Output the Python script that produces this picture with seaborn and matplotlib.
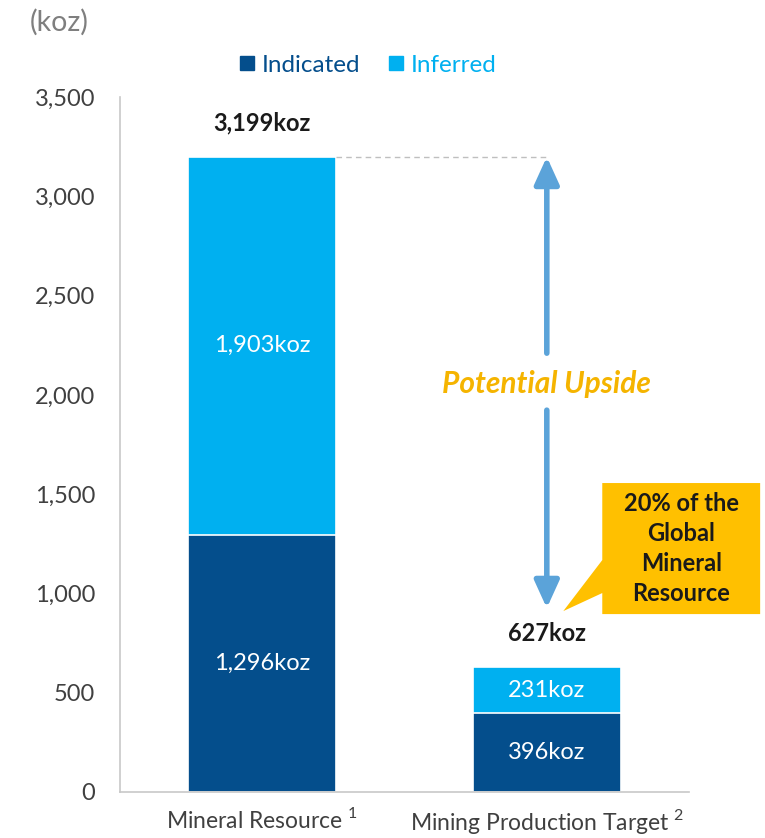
import matplotlib
matplotlib.use("Agg")
import matplotlib.pyplot as plt
import seaborn as sns
import pandas as pd
from matplotlib.lines import Line2D
from matplotlib.patches import Polygon, FancyArrowPatch

categories = ["Mineral Resource $^{1}$", "Mining Production Target $^{2}$"]
indicated = [1296, 396]
inferred = [1903, 231]
totals = [3199, 627]
y_ticks = [0, 500, 1000, 1500, 2000, 2500, 3000, 3500]

C_IND = "#044E8C"
C_INF = "#00B0F0"
C_TXT = "#404040"
C_ARROW = "#5BA3D9"
C_GOLD = "#FFC000"
C_UPSIDE = "#F5B400"

sns.set_theme(style="white")
plt.rcParams["font.family"] = ["Lato", "DejaVu Sans"]
plt.rcParams["mathtext.fontset"] = "custom"
plt.rcParams["mathtext.rm"] = "Lato"

df = pd.DataFrame({"cat": categories, "indicated": indicated,
                   "inferred": inferred, "total": totals})

fig = plt.figure(figsize=(7.65, 8.38), dpi=100)
ax = fig.add_axes([0.157, 0.0549, 0.7437, 0.8293])

# stacked bars: total in light blue, indicated on top in dark blue
sns.barplot(data=df, x="cat", y="total", color=C_INF, width=0.52,
            edgecolor="white", linewidth=1.2, saturation=1, ax=ax)
sns.barplot(data=df, x="cat", y="indicated", color=C_IND, width=0.52,
            edgecolor="white", linewidth=1.2, saturation=1, ax=ax)

ax.set_xlim(-0.5, 1.5)
ax.set_ylim(0, 3500)
ax.set_yticks(y_ticks)
ax.set_yticklabels([f"{v:,}" for v in y_ticks], color=C_TXT, fontsize=17)
ax.set_xlabel("")
ax.set_ylabel("")
ax.tick_params(axis="x", length=0, pad=11, labelsize=16.5, labelcolor=C_TXT)
ax.tick_params(axis="y", length=0, pad=18)
sns.despine(ax=ax)
for s in ("left", "bottom"):
    ax.spines[s].set_color("#C8C8C8")
    ax.spines[s].set_linewidth(1.2)

# segment labels
for i in range(len(categories)):
    ax.text(i, indicated[i] / 2, f"{indicated[i]:,}koz", ha="center", va="center",
            color="white", fontsize=17)
    ax.text(i, indicated[i] + inferred[i] / 2, f"{inferred[i]:,}koz", ha="center",
            va="center", color="white", fontsize=17)
    ax.text(i, totals[i] + 170, f"{totals[i]:,}koz", ha="center", va="center",
            color="#1a1a1a", fontsize=17, fontweight="bold")

# dashed reference line and upside arrow
ax.plot([0.26, 1.0], [totals[0], totals[0]], ls=(0, (4, 3)), color="#BFBFBF", lw=1)
ax.add_patch(FancyArrowPatch((1.0, 2210), (1.0, totals[0]), arrowstyle="-|>,head_length=11,head_width=5",
                             mutation_scale=1.5, color=C_ARROW, lw=4, shrinkA=0, shrinkB=0))
ax.add_patch(FancyArrowPatch((1.0, 1923), (1.0, 926), arrowstyle="-|>,head_length=11,head_width=5",
                             mutation_scale=1.5, color=C_ARROW, lw=4, shrinkA=0, shrinkB=0))
ax.text(1.0, 2054, "Potential Upside", ha="center", va="center", color=C_UPSIDE,
        fontsize=21.5, fontweight="bold", style="italic")

# callout box
callout = Polygon([(1.195, 1556), (1.75, 1556), (1.75, 896), (1.195, 896),
                   (1.195, 1002), (1.058, 911), (1.195, 1168)],
                  closed=True, facecolor=C_GOLD, edgecolor="none", clip_on=False)
ax.add_patch(callout)
ax.text(1.4725, 1226, "20% of the\nGlobal\nMineral\nResource", ha="center", va="center",
        fontsize=17, fontweight="bold", color="#1a1a1a", linespacing=1.38, clip_on=False)

# unit label
fig.text(0.078, 0.973, "(koz)", ha="center", va="center", color="#7F7F7F", fontsize=20.5)

# legend
handles = [Line2D([], [], marker="s", ls="", color=C_IND, markersize=10),
           Line2D([], [], marker="s", ls="", color=C_INF, markersize=10)]
fig.legend(handles, ["Indicated", "Inferred"], loc="center", bbox_to_anchor=(0.478, 0.922),
           ncol=2, frameon=False, fontsize=17.5, handletextpad=0.1, columnspacing=1.0,
           labelcolor=[C_IND, C_INF], handlelength=1.0)

fig.savefig("out.png", dpi=100)
